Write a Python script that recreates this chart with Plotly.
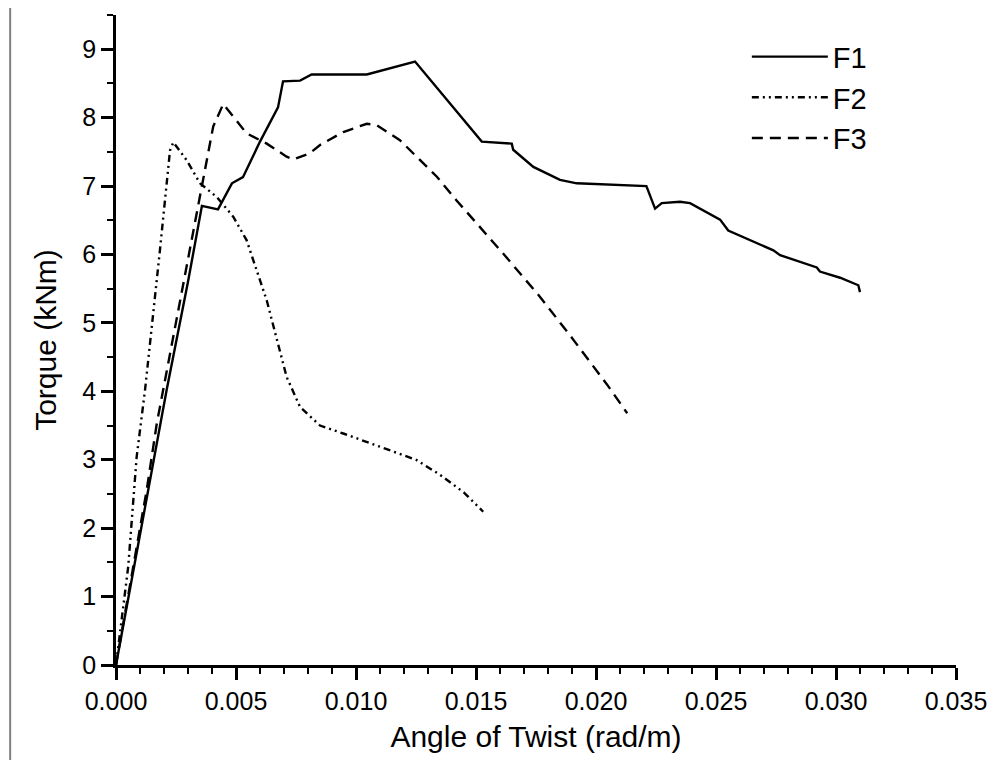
import plotly.graph_objects as go

# F1 (solid)
f1_x = [0.0, 0.00114, 0.00211, 0.0030, 0.00358, 0.00425, 0.00483, 0.00529, 0.0060, 0.00675, 0.00696,
        0.00767, 0.00815, 0.01045, 0.01246, 0.01524, 0.01649, 0.01655, 0.01739, 0.0185, 0.0192,
        0.0221, 0.02246, 0.02274, 0.0235, 0.02392, 0.02517, 0.02551, 0.02739, 0.02767, 0.0292,
        0.02933, 0.03017, 0.03093, 0.0310]
f1_y = [0.0, 2.17, 4.02, 5.6, 6.71, 6.66, 7.04, 7.13, 7.65, 8.15, 8.53,
        8.54, 8.63, 8.63, 8.82, 7.65, 7.62, 7.53, 7.28, 7.09, 7.04,
        7.00, 6.67, 6.75, 6.77, 6.75, 6.51, 6.35, 6.06, 5.99, 5.81,
        5.75, 5.66, 5.55, 5.45]

# F2 (dash-dot-dot)
f2_x = [0.0, 0.00051, 0.00086, 0.00121, 0.00183, 0.00225, 0.00239, 0.00294, 0.0035, 0.0042,
        0.00489, 0.00544, 0.00628, 0.00711, 0.00767, 0.0085, 0.0095, 0.0105, 0.0115, 0.0125,
        0.0135, 0.0145, 0.0153]
f2_y = [0.0, 1.44, 3.04, 4.02, 6.06, 7.52, 7.64, 7.38, 7.04, 6.84,
        6.55, 6.21, 5.33, 4.21, 3.77, 3.50, 3.38, 3.25, 3.12, 3.00,
        2.78, 2.52, 2.24]

# F3 (dashed)
f3_x = [0.0, 0.00128, 0.0017, 0.0035, 0.00405, 0.00447, 0.00544, 0.00628, 0.00711, 0.00739,
        0.00808, 0.0085, 0.00947, 0.01045, 0.01086, 0.01183, 0.01253, 0.01336, 0.01419, 0.01517,
        0.01614, 0.01767, 0.0190, 0.0205, 0.0213]
f3_y = [0.0, 2.56, 3.53, 6.89, 7.87, 8.20, 7.77, 7.62, 7.43, 7.39,
        7.48, 7.60, 7.79, 7.91, 7.89, 7.67, 7.43, 7.14, 6.79, 6.40,
        6.01, 5.38, 4.78, 4.08, 3.68]

x_ticks = [0.0, 0.005, 0.010, 0.015, 0.020, 0.025, 0.030, 0.035]
x_tick_labels = ["0.000", "0.005", "0.010", "0.015", "0.020", "0.025", "0.030", "0.035"]
y_ticks = [0, 1, 2, 3, 4, 5, 6, 7, 8, 9]

FONT = "Liberation Sans, Arial, sans-serif"

fig = go.Figure()
fig.add_trace(go.Scatter(x=f1_x, y=f1_y, mode="lines", name="F1",
                         line=dict(color="black", width=2.4, dash="solid")))
fig.add_trace(go.Scatter(x=f2_x, y=f2_y, mode="lines", name="F2",
                         line=dict(color="black", width=2.4, dash="7px,4px,2px,4px,2px,4px")))
fig.add_trace(go.Scatter(x=f3_x, y=f3_y, mode="lines", name="F3",
                         line=dict(color="black", width=2.4, dash="11px,7px")))

fig.update_layout(
    width=995, height=752,
    paper_bgcolor="white", plot_bgcolor="white",
    margin=dict(l=108, r=47, t=7, b=95),
    font=dict(family=FONT, color="black"),
    showlegend=True,
    legend=dict(x=0.751, y=0.975, xanchor="left", yanchor="top",
                font=dict(size=29, family=FONT, color="black"),
                bgcolor="rgba(0,0,0,0)", borderwidth=0, tracegroupgap=0,
                itemwidth=76),
    xaxis=dict(range=[0, 0.035], tickvals=x_ticks, ticktext=x_tick_labels,
               showgrid=False, zeroline=False, showline=True, linecolor="black", linewidth=2.5,
               ticks="outside", ticklen=12, tickwidth=2.5, tickcolor="black",
               tickfont=dict(size=25, family=FONT, color="black"),
               minor=dict(dtick=0.001, ticks="outside", ticklen=6, tickwidth=2, tickcolor="black"),
               title=dict(text="Angle of Twist (rad/m)", font=dict(size=30, family=FONT, color="black"),
                          standoff=13)),
    yaxis=dict(range=[0, 9.5], tickvals=y_ticks,
               showgrid=False, zeroline=False, showline=True, linecolor="black", linewidth=2.5,
               ticks="outside", ticklen=12, tickwidth=2.5, tickcolor="black",
               tickfont=dict(size=25, family=FONT, color="black"),
               minor=dict(dtick=0.5, ticks="outside", ticklen=6, tickwidth=2, tickcolor="black"),
               title=dict(text="Torque (kNm)", font=dict(size=30, family=FONT, color="black"),
                          standoff=17)),
)

# grey border line at the left edge of the figure image
fig.add_shape(type="line", xref="paper", yref="paper", x0=-0.126, x1=-0.126, y0=-0.15, y1=1.03,
              line=dict(color="#808080", width=2))

fig.write_html("out.html")
